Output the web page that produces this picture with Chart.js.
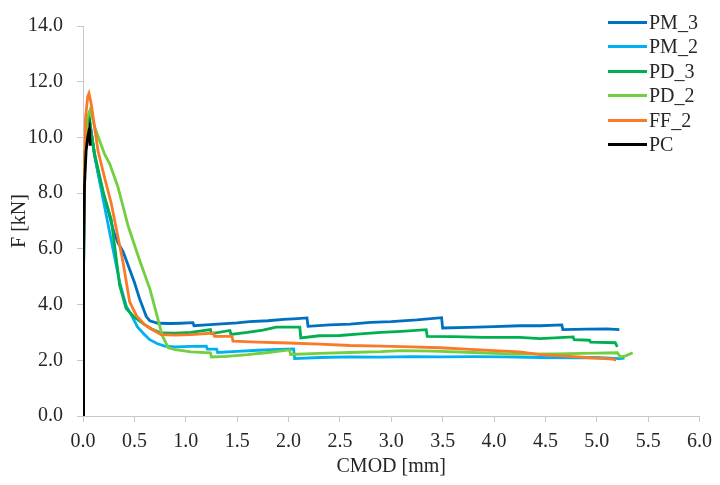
<!DOCTYPE html>
<html>
<head>
<meta charset="utf-8">
<script src="https://cdn.jsdelivr.net/npm/chart.js@4/dist/chart.umd.min.js"></script>
<style>
  body { margin: 0; background: #fff; }
  #wrap { position: relative; width: 720px; height: 485px; }
  #legend { position: absolute; left: 608px; top: 10px; font-family: "Liberation Serif", serif; font-size: 20px; color: #262626; }
  .row { height: 24.5px; display: flex; align-items: center; }
  .swatch { width: 39px; height: 3px; margin-right: 2px; }
</style>
</head>
<body>
<div id="wrap">
  <canvas id="chart"></canvas>
  <div id="legend"></div>
</div>
<script>
// CMOD [mm], F [kN] pairs
const PM_3 = [
  [0, 0], [0.005, 5], [0.015, 9], [0.035, 10.4], [0.058, 10.75], [0.11, 9.4], [0.17, 8.3],
  [0.243, 7.4], [0.3, 6.6], [0.34, 6.22], [0.39, 5.9], [0.44, 5.4], [0.5, 4.8], [0.55, 4.22],
  [0.616, 3.57], [0.65, 3.42], [0.73, 3.33], [0.85, 3.32], [0.95, 3.33], [1.07, 3.35],
  [1.08, 3.24], [1.2, 3.27], [1.35, 3.31], [1.5, 3.34], [1.62, 3.39], [1.8, 3.42],
  [1.95, 3.47], [2.05, 3.49], [2.18, 3.52], [2.19, 3.22], [2.4, 3.27], [2.6, 3.3],
  [2.8, 3.36], [3.0, 3.39], [3.25, 3.45], [3.49, 3.53], [3.5, 3.16], [3.75, 3.18],
  [4.0, 3.21], [4.25, 3.24], [4.45, 3.24], [4.66, 3.27], [4.67, 3.1], [4.9, 3.12],
  [5.1, 3.13], [5.22, 3.1]
];
const PM_2 = [
  [0, 0], [0.005, 5], [0.015, 9], [0.035, 10.4], [0.058, 10.7], [0.113, 9.4], [0.2, 7.7],
  [0.275, 6.3], [0.357, 4.8], [0.42, 3.95], [0.47, 3.63], [0.53, 3.2], [0.6, 2.92],
  [0.65, 2.74], [0.72, 2.6], [0.795, 2.51], [0.9, 2.48], [1.05, 2.5], [1.2, 2.51],
  [1.21, 2.4], [1.3, 2.4], [1.31, 2.28], [1.5, 2.32], [1.7, 2.36], [1.9, 2.39], [2.05, 2.41],
  [2.06, 2.06], [2.3, 2.1], [2.6, 2.12], [2.9, 2.11], [3.2, 2.13], [3.5, 2.12], [3.8, 2.13],
  [4.1, 2.12], [4.45, 2.1], [4.8, 2.09], [5.0, 2.1], [5.22, 2.06], [5.27, 2.08]
];
const PD_3 = [
  [0, 0], [0.005, 5], [0.015, 9], [0.035, 10.4], [0.058, 10.75], [0.113, 9.4], [0.2, 8.0],
  [0.275, 7.04], [0.357, 4.69], [0.42, 3.86], [0.5, 3.55], [0.6, 3.28], [0.68, 3.1],
  [0.76, 2.98], [0.9, 2.97], [1.05, 3.0], [1.24, 3.1], [1.25, 2.96], [1.43, 3.07],
  [1.44, 2.93], [1.6, 3.0], [1.75, 3.08], [1.88, 3.19], [2.11, 3.19], [2.12, 2.8],
  [2.3, 2.88], [2.5, 2.89], [2.7, 2.95], [2.9, 3.0], [3.1, 3.04], [3.34, 3.1], [3.35, 2.86],
  [3.6, 2.85], [3.9, 2.82], [4.25, 2.82], [4.45, 2.78], [4.77, 2.84], [4.78, 2.74],
  [4.93, 2.72], [4.94, 2.65], [5.18, 2.63], [5.2, 2.48]
];
const PD_2 = [
  [0, 0], [0.005, 5], [0.015, 9], [0.04, 10.7], [0.07, 11.0], [0.12, 10.3], [0.21, 9.4],
  [0.26, 9.05], [0.34, 8.22], [0.44, 6.81], [0.55, 5.6], [0.65, 4.57], [0.71, 3.75],
  [0.77, 2.9], [0.83, 2.45], [0.9, 2.38], [1.05, 2.3], [1.24, 2.27], [1.25, 2.12],
  [1.4, 2.14], [1.6, 2.2], [1.8, 2.28], [2.01, 2.37], [2.02, 2.21], [2.3, 2.25], [2.6, 2.28],
  [2.9, 2.31], [3.1, 2.35], [3.4, 2.33], [3.8, 2.28], [4.2, 2.22], [4.6, 2.23], [5.0, 2.26],
  [5.2, 2.27], [5.23, 2.12], [5.28, 2.16], [5.35, 2.27]
];
const FF_2 = [
  [0, 0], [0.003, 4], [0.01, 8], [0.025, 10.7], [0.045, 11.45], [0.058, 11.58], [0.08, 11.2],
  [0.146, 9.52], [0.2, 8.7], [0.275, 7.63], [0.39, 5.51], [0.454, 4.1], [0.52, 3.6],
  [0.6, 3.28], [0.65, 3.15], [0.76, 2.92], [0.9, 2.9], [1.05, 2.92], [1.27, 2.98],
  [1.28, 2.86], [1.45, 2.86], [1.46, 2.69], [1.7, 2.65], [2.0, 2.62], [2.3, 2.58],
  [2.6, 2.53], [2.9, 2.51], [3.2, 2.48], [3.47, 2.45], [3.73, 2.4], [4.0, 2.35], [4.25, 2.3],
  [4.45, 2.2], [4.7, 2.15], [4.9, 2.1], [5.16, 2.04], [5.19, 2.0]
];
const PC = [
  [0, 0], [0.003, 3], [0.008, 6], [0.015, 8.3], [0.03, 9.5], [0.045, 10.0], [0.062, 10.3],
  [0.066, 10.0], [0.07, 9.7]
];

const seriesNames = ["PM_3", "PM_2", "PD_3", "PD_2", "FF_2", "PC"];
const seriesData = [PM_3, PM_2, PD_3, PD_2, FF_2, PC];
const seriesColors = ["#0070C0", "#00B0F0", "#00B050", "#72CF3F", "#F97A28", "#000000"];

const fontFamily = "'Liberation Serif', serif";
const textColor = "#262626";
const axisColor = "#c8c8c8";

const datasets = seriesNames.map((name, i) => ({
  label: name,
  data: seriesData[i].map(([x, y]) => ({ x: x, y: y })),
  borderColor: seriesColors[i],
  borderWidth: 2.8,
  showLine: true,
  pointRadius: 0,
  tension: 0,
  fill: false,
  order: seriesNames.length - 1 - i, // last series on top, like the original
}));

new Chart(document.getElementById("chart").getContext("2d"), {
  type: "scatter",
  data: { datasets: datasets },
  options: {
    responsive: true,
    maintainAspectRatio: false,
    animation: false,
    layout: { padding: { top: 20, right: 20, left: 0, bottom: 0 } },
    plugins: { legend: { display: false }, tooltip: { enabled: false } },
    scales: {
      x: {
        type: "linear",
        min: 0,
        max: 6,
        afterFit: (s) => { s.height = 69; },
        ticks: {
          stepSize: 0.5,
          padding: 8,
          color: textColor,
          font: { family: fontFamily, size: 20 },
          callback: (v) => v.toFixed(1),
        },
        grid: { drawOnChartArea: false, tickLength: 6, color: axisColor },
        border: { color: axisColor },
        title: {
          display: true,
          text: "CMOD [mm]",
          color: textColor,
          font: { family: fontFamily, size: 20 },
          padding: { top: 0, bottom: 6 },
        },
      },
      y: {
        min: 0,
        max: 14,
        afterFit: (s) => { s.width = 83; },
        ticks: {
          stepSize: 2,
          padding: 14,
          color: textColor,
          font: { family: fontFamily, size: 20 },
          callback: (v) => v.toFixed(1),
        },
        grid: { drawOnChartArea: false, tickLength: 6, color: axisColor },
        border: { color: axisColor },
        title: {
          display: true,
          text: "F [kN]",
          color: textColor,
          font: { family: fontFamily, size: 20 },
          padding: { top: 8, bottom: 0 },
        },
      },
    },
  },
});

// legend on the right, drawn over the plot like the original
const legend = document.getElementById("legend");
seriesNames.forEach((name, i) => {
  const row = document.createElement("div");
  row.className = "row";
  row.innerHTML = '<div class="swatch" style="background:' + seriesColors[i] + '"></div><span>' + name + "</span>";
  legend.appendChild(row);
});
</script>
</body>
</html>
